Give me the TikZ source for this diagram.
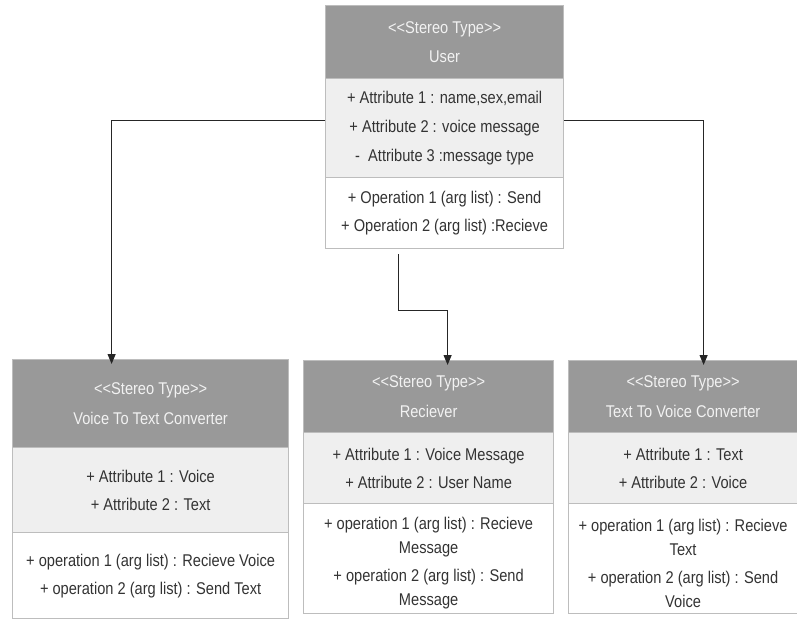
\documentclass[tikz,border=0pt]{standalone}
\usepackage{fontspec}
\setmainfont{Liberation Sans}[FakeStretch=0.86]
\usetikzlibrary{arrows.meta}
\definecolor{hdr}{HTML}{999999}
\definecolor{attrbg}{HTML}{EFEFEF}
\definecolor{bord}{HTML}{BDBDBD}
\definecolor{txt}{HTML}{333333}
\definecolor{htxt}{HTML}{F2F2F2}
\newcommand\stereo{<\kern0pt<Stereo Type>\kern0pt>}
\newcommand\downshift{\mbox{}\\[-7pt]}
\tikzset{
 sec/.style={draw=bord, line width=1.2pt, inner sep=0pt, anchor=north west, align=center, text=txt, font=\fontsize{17}{28}\selectfont},
 hdrsec/.style={sec, fill=hdr, text=htxt, font=\fontsize{17}{29.5}\selectfont},
 attrsec/.style={sec, fill=attrbg},
 opsec/.style={sec, fill=white},
 conn/.style={draw=black!85, line width=1.1pt, -{Triangle[width=8pt,length=10pt]}},
}
\begin{document}
\begin{tikzpicture}[x=1pt,y=-1pt]
\useasboundingbox (0,0) rectangle (797,621);
% User
\node[hdrsec, minimum width=238pt, minimum height=73pt] (uh) at (325,5) {\stereo\\User};
\node[attrsec, minimum width=238pt, minimum height=99pt, font=\fontsize{17}{29}\selectfont] (ua) at (325,78) {+ Attribute 1 : name,sex,email\\+ Attribute 2 : voice message\\-\ \ Attribute 3 :message type};
\node[opsec, minimum width=238pt, minimum height=71pt] (uo) at (325,177) {+ Operation 1 (arg list) : Send\\+ Operation 2 (arg list) :Recieve};
% Voice To Text Converter
\node[hdrsec, minimum width=276pt, minimum height=88pt] (vh) at (12,359) {\stereo\\Voice To Text Converter};
\node[attrsec, minimum width=276pt, minimum height=85pt] (va) at (12,447) {+ Attribute 1 : Voice\\+ Attribute 2 : Text};
\node[opsec, minimum width=276pt, minimum height=86pt] (vo) at (12,532) {+ operation 1 (arg list) : Recieve Voice\\+ operation 2 (arg list) : Send Text};
% Reciever
\node[hdrsec, minimum width=250pt, minimum height=72pt] (rh) at (303,360) {\stereo\\Reciever};
\node[attrsec, minimum width=250pt, minimum height=71pt] (ra) at (303,432) {+ Attribute 1 : Voice Message\\+ Attribute 2 : User Name};
\node[opsec, minimum width=250pt, minimum height=110pt] (ro) at (303,503) {\downshift+ operation 1 (arg list) : Recieve\\[-4pt]Message\\+ operation 2 (arg list) : Send\\[-4pt]Message};
% Text To Voice Converter
\node[hdrsec, minimum width=229pt, minimum height=72pt] (th) at (568,360) {\stereo\\Text To Voice Converter};
\node[attrsec, minimum width=229pt, minimum height=71pt] (ta) at (568,432) {+ Attribute 1 : Text\\+ Attribute 2 : Voice};
\node[opsec, minimum width=229pt, minimum height=110pt] (to) at (568,503) {\downshift+ operation 1 (arg list) : Recieve\\[-4pt]Text\\+ operation 2 (arg list) : Send\\[-4pt]Voice};
% connectors
\draw[conn] ([yshift=7.5pt]ua.west) -| ([xshift=-39pt,yshift=-5pt]vh.north);
\draw[conn] ([yshift=7.5pt]ua.east) -| ([xshift=20.5pt,yshift=-5pt]th.north);
\draw[conn] ([xshift=-46pt,yshift=-5pt]uo.south) -- ++(0,56) -| ([xshift=19pt,yshift=-5pt]rh.north);
\end{tikzpicture}
\end{document}
